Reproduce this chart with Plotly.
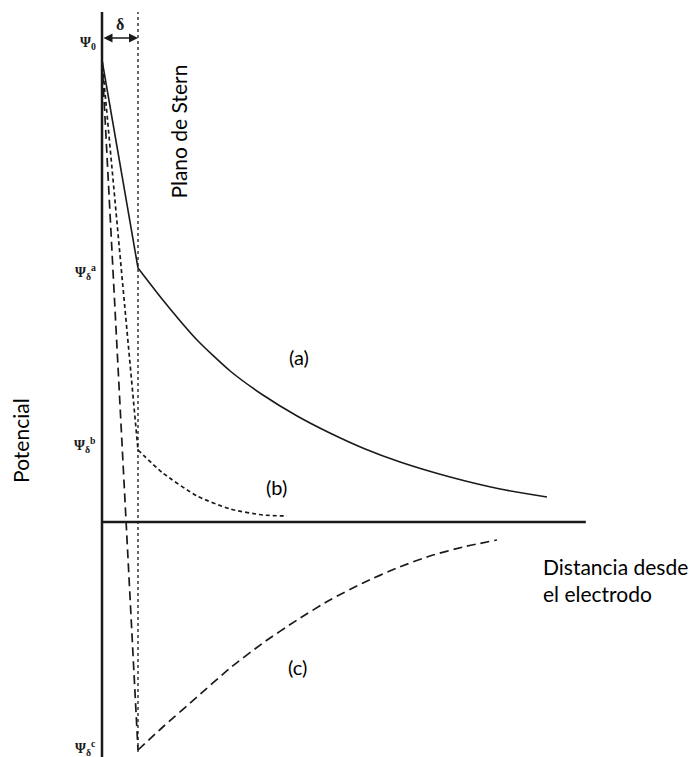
import plotly.graph_objects as go

# Units: distance in multiples of the Stern layer thickness (delta = 1); potential arbitrary units
delta = 1.0

# Curve (a): solid
a_x = [0.0, 1.0, 1.69, 2.64, 3.56, 4.47, 5.42, 6.33, 7.31, 8.28, 9.67, 11.06, 12.36]
a_y = [4.62, 2.54, 2.22, 1.82, 1.51, 1.27, 1.06, 0.89, 0.73, 0.60, 0.45, 0.33, 0.25]

# Curve (b): short dashes
b_x = [0.0, 1.0, 1.69, 2.64, 3.56, 4.47, 5.14]
b_y = [4.62, 0.72, 0.49, 0.26, 0.13, 0.07, 0.06]

# Curve (c): long dashes
c_x = [0.0, 1.0, 1.69, 2.64, 3.56, 4.47, 5.42, 6.33, 7.25, 8.19, 9.11, 10.03, 10.97]
c_y = [4.62, -2.28, -2.05, -1.75, -1.46, -1.21, -0.98, -0.78, -0.61, -0.46, -0.34, -0.25, -0.18]

x_axis_end = 13.44
y_axis_top = 5.10
y_axis_bottom = -2.35
stern_bottom = -2.30
arrow_y = 4.84

psi_labels = ["Ψ<sub>0</sub>", "Ψ<sub>δ</sub><sup>a</sup>", "Ψ<sub>δ</sub><sup>b</sup>", "Ψ<sub>δ</sub><sup>c</sup>"]
psi_values = [4.79, 2.50, 0.77, -2.26]

ink = "#1a1a1a"
fig = go.Figure()

def add_curve(xs, ys, dash, width):
    # straight segment inside the Stern layer
    fig.add_trace(go.Scatter(x=xs[:2], y=ys[:2], mode="lines",
                             line=dict(color=ink, width=width, dash=dash), showlegend=False, hoverinfo="skip"))
    # diffuse-layer decay
    fig.add_trace(go.Scatter(x=xs[1:], y=ys[1:], mode="lines",
                             line=dict(color=ink, width=width, dash=dash, shape="spline", smoothing=0.6),
                             showlegend=False, hoverinfo="skip"))

add_curve(a_x, a_y, "solid", 1.6)
add_curve(b_x, b_y, "4px,3px", 1.7)
add_curve(c_x, c_y, "9px,5px", 1.7)

# axes
fig.add_shape(type="line", x0=0, x1=0, y0=y_axis_bottom, y1=y_axis_top, line=dict(color=ink, width=2.5))
fig.add_shape(type="line", x0=0, x1=x_axis_end, y0=0, y1=0, line=dict(color=ink, width=2.5))
# Stern plane
fig.add_shape(type="line", x0=delta, x1=delta, y0=stern_bottom, y1=y_axis_top, line=dict(color=ink, width=1.3, dash="dot"))

annotations = []
# delta arrow
annotations.append(dict(x=delta, y=arrow_y, ax=0, ay=arrow_y, axref="x", ayref="y", xref="x", yref="y",
                        text="", showarrow=True, arrowhead=2, arrowside="end+start", arrowsize=1.2,
                        arrowwidth=1.5, arrowcolor=ink))
annotations.append(dict(x=0.5, y=4.98, text="<b>δ</b>", showarrow=False,
                        font=dict(family="Liberation Serif", size=16, color=ink)))

for lab, v in zip(psi_labels, psi_values):
    annotations.append(dict(x=-0.1, y=v, text="<b>" + lab + "</b>", showarrow=False, xanchor="right",
                            font=dict(family="Liberation Serif", size=14, color=ink)))

txt_font = dict(family="Lato", size=21, color="#000")
lbl_font = dict(family="Lato", size=20, color="#000")
annotations.append(dict(x=2.1, y=3.90, text="Plano de Stern", textangle=-90, showarrow=False, font=txt_font))
annotations.append(dict(x=-2.28, y=0.82, text="Potencial", textangle=-90, showarrow=False, font=txt_font))
annotations.append(dict(x=5.47, y=1.65, text="(a)", showarrow=False, font=lbl_font))
annotations.append(dict(x=4.86, y=0.35, text="(b)", showarrow=False, font=lbl_font))
annotations.append(dict(x=5.42, y=-1.45, text="(c)", showarrow=False, font=lbl_font))
annotations.append(dict(x=12.2, y=-0.58, text="Distancia desde<br>el electrodo", showarrow=False,
                        xanchor="left", align="left", font=txt_font))

fig.update_layout(
    width=692, height=757, margin=dict(l=0, r=0, t=0, b=0),
    paper_bgcolor="white", plot_bgcolor="white",
    xaxis=dict(range=[-102/36, 590/36], visible=False, fixedrange=True),
    yaxis=dict(range=[-2.35, 5.22], visible=False, fixedrange=True),
    annotations=annotations, showlegend=False,
)

fig.write_html("out.html")
